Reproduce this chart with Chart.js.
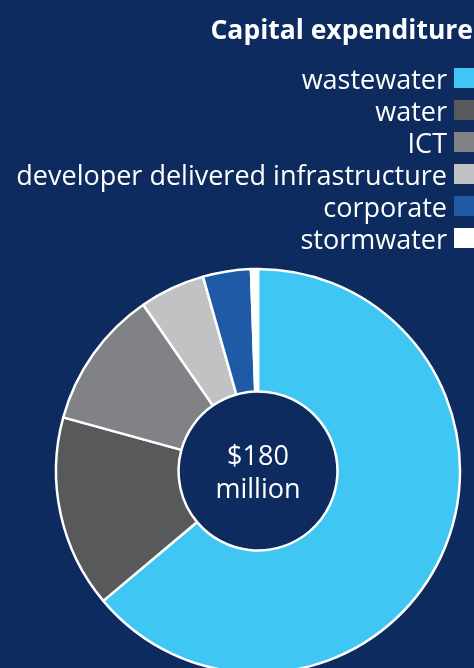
<!DOCTYPE html>
<html>
<head>
<meta charset="utf-8">
<script src="https://cdn.jsdelivr.net/npm/chart.js@4.4.0/dist/chart.umd.min.js"></script>
<style>
  html, body { margin: 0; padding: 0; background: #0d2b5e; }
  #wrap { position: relative; width: 474px; height: 668px; overflow: hidden; font-family: "Open Sans", sans-serif; color: #fff; }
  #capex { position: absolute; left: 0; top: 0; }
  #title { position: absolute; right: 1px; top: 13px; font-weight: bold; font-size: 26.5px; line-height: 32px; white-space: nowrap; }
  #legend { position: absolute; right: 0; top: 62px; margin: 0; padding: 0; list-style: none; }
  #legend li { height: 32px; display: flex; align-items: center; justify-content: flex-end; font-size: 27px; white-space: nowrap; }
  #legend li span.box { display: inline-block; width: 20px; height: 20px; margin-left: 7px; }
  #centre { position: absolute; left: 168px; top: 438px; width: 180px; text-align: center; font-size: 27px; line-height: 33px; }
</style>
</head>
<body>
<div id="wrap">
  <canvas id="capex" width="474" height="668"></canvas>
  <div id="title">Capital expenditure</div>
  <ul id="legend"></ul>
  <div id="centre">$180<br>million</div>
</div>
<script>
// Capital expenditure split, $ million (total 180)
const categories = ["wastewater", "water", "ICT", "developer delivered infrastructure", "corporate", "stormwater"];
const spend = [115, 27.7, 20, 9.4, 6.9, 1.0];
const colours = ["#3fc6f2", "#58595b", "#808285", "#c1c2c4", "#1f5aa6", "#ffffff"];

document.addEventListener("DOMContentLoaded", () => {
  const ctx = document.getElementById("capex").getContext("2d");

  new Chart(ctx, {
    type: "doughnut",
    data: {
      labels: categories,
      datasets: [{
        data: spend,
        backgroundColor: colours,
        borderColor: "#ffffff",
        borderWidth: 2.5
      }]
    },
    options: {
      responsive: false,
      animation: false,
      radius: 202,
      cutout: 77,
      layout: { padding: { left: 42, right: 0, top: 274, bottom: 0 } },
      plugins: {
        legend: { display: false },
        tooltip: { enabled: false }
      }
    }
  });

  // legend: text on the left, swatch on the right
  const ul = document.getElementById("legend");
  categories.forEach((name, i) => {
    const li = document.createElement("li");
    li.textContent = name;
    const box = document.createElement("span");
    box.className = "box";
    box.style.background = colours[i];
    li.appendChild(box);
    ul.appendChild(li);
  });
});
</script>
</body>
</html>
